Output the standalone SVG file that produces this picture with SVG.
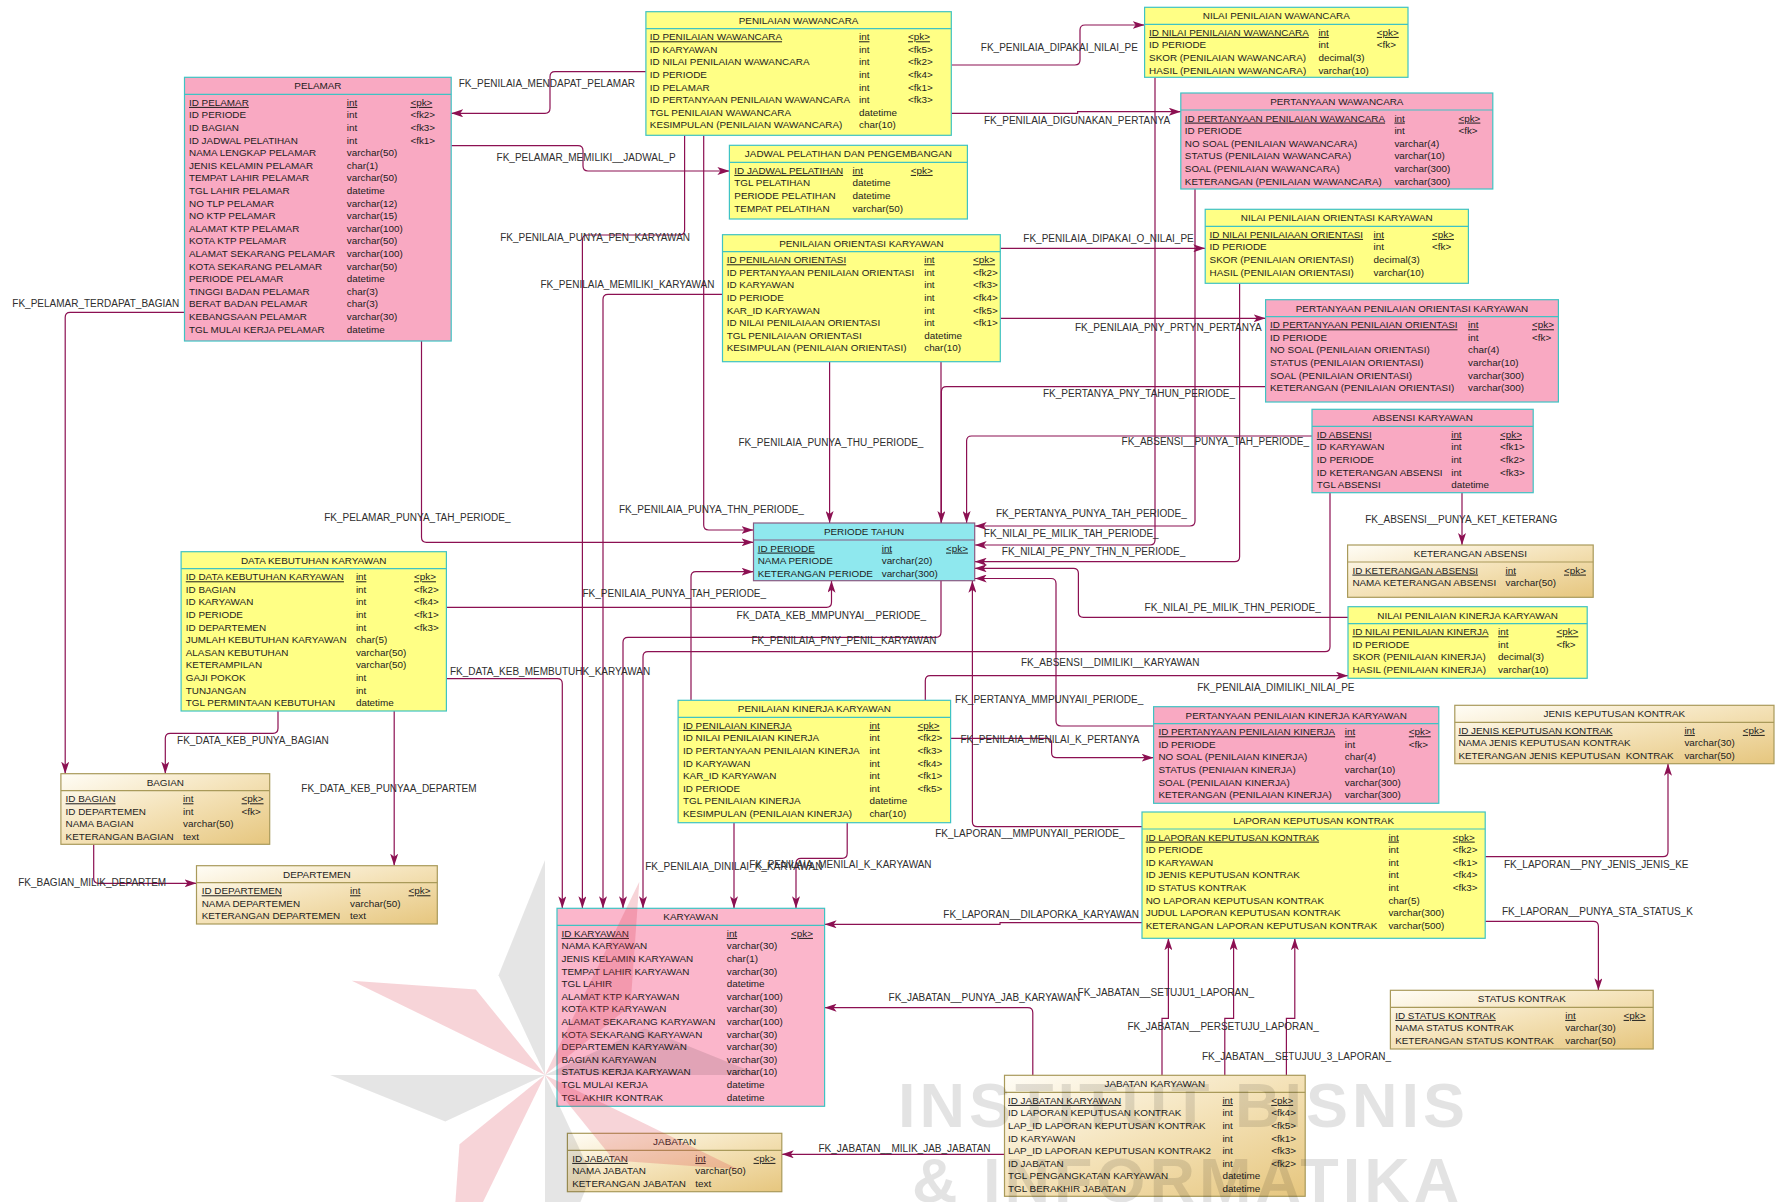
<svg xmlns="http://www.w3.org/2000/svg" width="1777" height="1202" viewBox="0 0 1777 1202">
<defs>
<style>
text{font-family:"Liberation Sans",Arial,sans-serif;font-size:9.9px;fill:#1c1c1c}
.ttl{text-anchor:middle}
.pk{text-decoration:underline}
.lbl{font-size:10px;fill:#2e2e2e}
.box{stroke-width:1.2}
.yel{fill:#ffff85;stroke:#3fc3c3}
.pnk{fill:#f9a9c2;stroke:#3fc3c3}
.kar{fill:#fbb6cb;stroke:#3fc3c3}
.tan{fill:url(#tanG);stroke:#a99a5a}
.cyn{fill:#8fe8ee;stroke:#8a5a82}
.sy{stroke:#3fc3c3;stroke-width:1.2}
.st{stroke:#a99a5a;stroke-width:1.2}
.sc{stroke:#8a5a82;stroke-width:1.2}
.conn path{fill:none;stroke:#8c1052;stroke-width:1.2;marker-end:url(#arr)}
.wm text{font-family:"Liberation Sans",Arial,sans-serif;font-weight:bold;font-size:63px;letter-spacing:4px;fill:#000;fill-opacity:0.11}
.wp{fill:#d8283a;fill-opacity:0.2}
.wg{fill:#000;fill-opacity:0.1}
</style>
<linearGradient id="tanG" x1="0" y1="0" x2="1" y2="1">
<stop offset="0" stop-color="#fffdf6"/>
<stop offset="0.5" stop-color="#f4e2b8"/>
<stop offset="1" stop-color="#e6c67e"/>
</linearGradient>
<marker id="arr" viewBox="0 0 12 8" refX="12" refY="4" markerWidth="12" markerHeight="8" markerUnits="userSpaceOnUse" orient="auto">
<path d="M0,0 L12,4 L0,8 L3,4 Z" fill="#8c1052"/>
</marker>
</defs>
<rect width="1777" height="1202" fill="#ffffff"/>

<g id="connectors" class="conn">
<path d="M646,71.7 H555 Q550,71.7 550,76.7 V108.3 Q550,113.3 545,113.3 H451.2"/>
<path d="M451.2,145.7 H578 Q583,145.7 583,150.7 V166 Q583,171 588,171 H729.4"/>
<path d="M951.3,65 H1075 Q1080,65 1080,60 V30 Q1080,25 1085,25 H1144.6"/>
<path d="M951.3,113.3 H1077.6 V111.7 H1180.8"/>
<path d="M684.6,135.3 V230 Q684.6,235 679.6,235 H587.4 Q582.4,235 582.4,240 V908.3"/>
<path d="M703.7,135.3 V525 Q703.7,530 708.7,530 H753.5"/>
<path d="M722.5,294.3 H608 Q603,294.3 603,299.3 V908.3"/>
<path d="M184.5,312.3 H70.2 Q65.2,312.3 65.2,317.3 V773.7"/>
<path d="M1000.3,248.3 H1205.2"/>
<path d="M1000.3,318.3 H1265.6"/>
<path d="M1265.6,386.7 H946.4 Q941.4,386.7 941.4,391.7 V523"/>
<path d="M1312,436 H971.6 Q966.6,436 966.6,441 V523"/>
<path d="M829.6,361.7 V523"/>
<path d="M421.5,341 V537.3 Q421.5,542.3 426.5,542.3 H753.5"/>
<path d="M1195,189 V521 Q1195,526 1190,526 H974.7"/>
<path d="M1155,77.3 V540 Q1155,545 1150,545 H974.7"/>
<path d="M1239.6,283.3 V556.7 Q1239.6,561.7 1234.6,561.7 H974.7"/>
<path d="M1348,617.3 H1083.4 Q1078.4,617.3 1078.4,612.3 V573.3 Q1078.4,568.3 1073.4,568.3 H974.7"/>
<path d="M1153.6,726 H1061 Q1056,726 1056,721 V583.5 Q1056,578.5 1051,578.5 H974.7"/>
<path d="M1462,492.7 V545"/>
<path d="M691,700.3 V576.7 Q691,571.7 696,571.7 H753.5"/>
<path d="M446.4,607.3 H826.5 Q831.5,607.3 831.5,602.3 V580.7"/>
<path d="M941,361.7 V632.3 Q941,637.3 936,637.3 H628 Q623,637.3 623,642.3 V908.3"/>
<path d="M1330,492.7 V646.7 Q1330,651.7 1325,651.7 H648 Q643,651.7 643,656.7 V908.3"/>
<path d="M446.4,678.7 H557.3 Q562.3,678.7 562.3,683.7 V908.3"/>
<path d="M925.3,700.3 V680.7 Q925.3,675.7 930.3,675.7 H1348"/>
<path d="M950.6,738.3 H1046.6 Q1051.6,738.3 1051.6,743.3 V752.7 Q1051.6,757.7 1056.6,757.7 H1153.6"/>
<path d="M278,711 V728.3 Q278,733.3 273,733.3 H170.3 Q165.3,733.3 165.3,738.3 V773.7"/>
<path d="M394.2,711 V865.7"/>
<path d="M1142,826.7 H977.4 Q972.4,826.7 972.4,821.7 V580.7"/>
<path d="M1485.2,856.7 H1663 Q1668,856.7 1668,851.7 V763.7"/>
<path d="M93.7,844.3 V878.3 Q93.7,883.3 98.7,883.3 H196.5"/>
<path d="M734,822.7 V908.3"/>
<path d="M847.2,822.7 V853.3 Q847.2,858.3 842.2,858.3 H801 Q796,858.3 796,863.3 V908.3"/>
<path d="M1142,922.7 H1000 V924.3 H824.6"/>
<path d="M1485.2,921.3 H1593.4 Q1598.4,921.3 1598.4,926.3 V990.3"/>
<path d="M1032.8,1075.3 V1012.7 Q1032.8,1007.7 1027.8,1007.7 H824.6"/>
<path d="M1162,1075.3 V1018.3 H1168.4 V938.3"/>
<path d="M1224.8,1075.3 V1018.3 H1233.6 V938.3"/>
<path d="M1286.4,1075.3 V1018.3 H1294.8 V938.3"/>
<path d="M1004.5,1154.3 H781.8"/>
<text class="lbl" x="458.7" y="87.3">FK_PENILAIA_MENDAPAT_PELAMAR</text>
<text class="lbl" x="496.6" y="160.9">FK_PELAMAR_MEMILIKI__JADWAL_P</text>
<text class="lbl" x="980.8" y="50.9">FK_PENILAIA_DIPAKAI_NILAI_PE</text>
<text class="lbl" x="983.9" y="123.9">FK_PENILAIA_DIGUNAKAN_PERTANYA</text>
<text class="lbl" x="500.2" y="241.3">FK_PENILAIA_PUNYA_PEN_KARYAWAN</text>
<text class="lbl" x="1023.3" y="242.3">FK_PENILAIA_DIPAKAI_O_NILAI_PE</text>
<text class="lbl" x="540.5" y="288.3">FK_PENILAIA_MEMILIKI_KARYAWAN</text>
<text class="lbl" x="12.3" y="307.3">FK_PELAMAR_TERDAPAT_BAGIAN</text>
<text class="lbl" x="1075" y="331.3">FK_PENILAIA_PNY_PRTYN_PERTANYA</text>
<text class="lbl" x="1043" y="396.9">FK_PERTANYA_PNY_TAHUN_PERIODE_</text>
<text class="lbl" x="1121.6" y="445.3">FK_ABSENSI__PUNYA_TAH_PERIODE_</text>
<text class="lbl" x="738.5" y="446.3">FK_PENILAIA_PUNYA_THU_PERIODE_</text>
<text class="lbl" x="619" y="513.3">FK_PENILAIA_PUNYA_THN_PERIODE_</text>
<text class="lbl" x="324.2" y="521.3">FK_PELAMAR_PUNYA_TAH_PERIODE_</text>
<text class="lbl" x="996" y="517.3">FK_PERTANYA_PUNYA_TAH_PERIODE_</text>
<text class="lbl" x="983.8" y="536.9">FK_NILAI_PE_MILIK_TAH_PERIODE_</text>
<text class="lbl" x="1001.8" y="555.3">FK_NILAI_PE_PNY_THN_N_PERIODE_</text>
<text class="lbl" x="1365.2" y="523.3">FK_ABSENSI__PUNYA_KET_KETERANG</text>
<text class="lbl" x="582.5" y="597.3">FK_PENILAIA_PUNYA_TAH_PERIODE_</text>
<text class="lbl" x="736.6" y="619.3">FK_DATA_KEB_MMPUNYAI__PERIODE_</text>
<text class="lbl" x="1144.6" y="611.3">FK_NILAI_PE_MILIK_THN_PERIODE_</text>
<text class="lbl" x="751.5" y="644.3">FK_PENILAIA_PNY_PENIL_KARYAWAN</text>
<text class="lbl" x="1021" y="666.3">FK_ABSENSI__DIMILIKI__KARYAWAN</text>
<text class="lbl" x="450" y="675.3">FK_DATA_KEB_MEMBUTUHK_KARYAWAN</text>
<text class="lbl" x="1197.2" y="691.3">FK_PENILAIA_DIMILIKI_NILAI_PE</text>
<text class="lbl" x="955.1" y="703.3">FK_PERTANYA_MMPUNYAII_PERIODE_</text>
<text class="lbl" x="960.5" y="743.3">FK_PENILAIA_MENILAI_K_PERTANYA</text>
<text class="lbl" x="177.1" y="744.3">FK_DATA_KEB_PUNYA_BAGIAN</text>
<text class="lbl" x="301.3" y="792.3">FK_DATA_KEB_PUNYAA_DEPARTEM</text>
<text class="lbl" x="935.2" y="837.3">FK_LAPORAN__MMPUNYAII_PERIODE_</text>
<text class="lbl" x="1504" y="868.3">FK_LAPORAN__PNY_JENIS_JENIS_KE</text>
<text class="lbl" x="18.2" y="886.3">FK_BAGIAN_MILIK_DEPARTEM</text>
<text class="lbl" x="645.2" y="870.3">FK_PENILAIA_DINILAI_K_KARYAWAN</text>
<text class="lbl" x="749.3" y="867.9">FK_PENILAIA_MENILAI_K_KARYAWAN</text>
<text class="lbl" x="943.3" y="918.3">FK_LAPORAN__DILAPORKA_KARYAWAN</text>
<text class="lbl" x="1502" y="915.3">FK_LAPORAN__PUNYA_STA_STATUS_K</text>
<text class="lbl" x="888.6" y="1001.3">FK_JABATAN__PUNYA_JAB_KARYAWAN</text>
<text class="lbl" x="1077.6" y="996.3">FK_JABATAN__SETUJU1_LAPORAN_</text>
<text class="lbl" x="1127.4" y="1030.3">FK_JABATAN__PERSETUJU_LAPORAN_</text>
<text class="lbl" x="1202" y="1060.3">FK_JABATAN__SETUJUU_3_LAPORAN_</text>
<text class="lbl" x="818.5" y="1152.3">FK_JABATAN__MILIK_JAB_JABATAN</text>
</g>

<g id="pelamar" transform="translate(184.5,77.3)">
<rect class="box pnk" width="266.7" height="263.7"/>
<line class="sy" x1="0" y1="17" x2="266.7" y2="17"/>
<text class="ttl" x="133.4" y="12.1">PELAMAR</text>
<text class="pk" y="28.6"><tspan x="4.5">ID PELAMAR</tspan><tspan x="162.3">int</tspan><tspan x="225.9">&lt;pk&gt;</tspan></text>
<text y="41.2"><tspan x="4.5">ID PERIODE</tspan><tspan x="162.3">int</tspan><tspan x="225.9">&lt;fk2&gt;</tspan></text>
<text y="53.8"><tspan x="4.5">ID BAGIAN</tspan><tspan x="162.3">int</tspan><tspan x="225.9">&lt;fk3&gt;</tspan></text>
<text y="66.4"><tspan x="4.5">ID JADWAL PELATIHAN</tspan><tspan x="162.3">int</tspan><tspan x="225.9">&lt;fk1&gt;</tspan></text>
<text y="79"><tspan x="4.5">NAMA LENGKAP PELAMAR</tspan><tspan x="162.3">varchar(50)</tspan></text>
<text y="91.6"><tspan x="4.5">JENIS KELAMIN PELAMAR</tspan><tspan x="162.3">char(1)</tspan></text>
<text y="104.2"><tspan x="4.5">TEMPAT LAHIR PELAMAR</tspan><tspan x="162.3">varchar(50)</tspan></text>
<text y="116.8"><tspan x="4.5">TGL LAHIR PELAMAR</tspan><tspan x="162.3">datetime</tspan></text>
<text y="129.4"><tspan x="4.5">NO TLP PELAMAR</tspan><tspan x="162.3">varchar(12)</tspan></text>
<text y="142"><tspan x="4.5">NO KTP PELAMAR</tspan><tspan x="162.3">varchar(15)</tspan></text>
<text y="154.6"><tspan x="4.5">ALAMAT KTP PELAMAR</tspan><tspan x="162.3">varchar(100)</tspan></text>
<text y="167.2"><tspan x="4.5">KOTA KTP PELAMAR</tspan><tspan x="162.3">varchar(50)</tspan></text>
<text y="179.8"><tspan x="4.5">ALAMAT SEKARANG PELAMAR</tspan><tspan x="162.3">varchar(100)</tspan></text>
<text y="192.4"><tspan x="4.5">KOTA SEKARANG PELAMAR</tspan><tspan x="162.3">varchar(50)</tspan></text>
<text y="205"><tspan x="4.5">PERIODE PELAMAR</tspan><tspan x="162.3">datetime</tspan></text>
<text y="217.6"><tspan x="4.5">TINGGI BADAN PELAMAR</tspan><tspan x="162.3">char(3)</tspan></text>
<text y="230.2"><tspan x="4.5">BERAT BADAN PELAMAR</tspan><tspan x="162.3">char(3)</tspan></text>
<text y="242.8"><tspan x="4.5">KEBANGSAAN PELAMAR</tspan><tspan x="162.3">varchar(30)</tspan></text>
<text y="255.4"><tspan x="4.5">TGL MULAI KERJA PELAMAR</tspan><tspan x="162.3">datetime</tspan></text>
</g>

<g id="penilaian-wawancara" transform="translate(645.9,11.7)">
<rect class="box yel" width="305.4" height="123.6"/>
<line class="sy" x1="0" y1="17" x2="305.4" y2="17"/>
<text class="ttl" x="152.7" y="12.1">PENILAIAN WAWANCARA</text>
<text class="pk" y="28.6"><tspan x="3.9">ID PENILAIAN WAWANCARA</tspan><tspan x="213.1">int</tspan><tspan x="262.1">&lt;pk&gt;</tspan></text>
<text y="41.2"><tspan x="3.9">ID KARYAWAN</tspan><tspan x="213.1">int</tspan><tspan x="262.1">&lt;fk5&gt;</tspan></text>
<text y="53.8"><tspan x="3.9">ID NILAI PENILAIAN WAWANCARA</tspan><tspan x="213.1">int</tspan><tspan x="262.1">&lt;fk2&gt;</tspan></text>
<text y="66.4"><tspan x="3.9">ID PERIODE</tspan><tspan x="213.1">int</tspan><tspan x="262.1">&lt;fk4&gt;</tspan></text>
<text y="79"><tspan x="3.9">ID PELAMAR</tspan><tspan x="213.1">int</tspan><tspan x="262.1">&lt;fk1&gt;</tspan></text>
<text y="91.6"><tspan x="3.9">ID PERTANYAAN PENILAIAN WAWANCARA</tspan><tspan x="213.1">int</tspan><tspan x="262.1">&lt;fk3&gt;</tspan></text>
<text y="104.2"><tspan x="3.9">TGL PENILAIAN WAWANCARA</tspan><tspan x="213.1">datetime</tspan></text>
<text y="116.8"><tspan x="3.9">KESIMPULAN (PENILAIAN WAWANCARA)</tspan><tspan x="213.1">char(10)</tspan></text>
</g>

<g id="nilai-penilaian-wawancara" transform="translate(1144.6,7.3)">
<rect class="box yel" width="263.4" height="70"/>
<line class="sy" x1="0" y1="17" x2="263.4" y2="17"/>
<text class="ttl" x="131.7" y="12.1">NILAI PENILAIAN WAWANCARA</text>
<text class="pk" y="28.6"><tspan x="4.5">ID NILAI PENILAIAN WAWANCARA</tspan><tspan x="173.8">int</tspan><tspan x="232.2">&lt;pk&gt;</tspan></text>
<text y="41.2"><tspan x="4.5">ID PERIODE</tspan><tspan x="173.8">int</tspan><tspan x="232.2">&lt;fk&gt;</tspan></text>
<text y="53.8"><tspan x="4.5">SKOR (PENILAIAN WAWANCARA)</tspan><tspan x="173.8">decimal(3)</tspan></text>
<text y="66.4"><tspan x="4.5">HASIL (PENILAIAN WAWANCARA)</tspan><tspan x="173.8">varchar(10)</tspan></text>
</g>

<g id="pertanyaan-wawancara" transform="translate(1180.8,93)">
<rect class="box pnk" width="312" height="96"/>
<line class="sy" x1="0" y1="17" x2="312" y2="17"/>
<text class="ttl" x="156" y="12.1">PERTANYAAN WAWANCARA</text>
<text class="pk" y="28.6"><tspan x="4">ID PERTANYAAN PENILAIAN WAWANCARA</tspan><tspan x="213.6">int</tspan><tspan x="277.6">&lt;pk&gt;</tspan></text>
<text y="41.2"><tspan x="4">ID PERIODE</tspan><tspan x="213.6">int</tspan><tspan x="277.6">&lt;fk&gt;</tspan></text>
<text y="53.8"><tspan x="4">NO SOAL (PENILAIAN WAWANCARA)</tspan><tspan x="213.6">varchar(4)</tspan></text>
<text y="66.4"><tspan x="4">STATUS (PENILAIAN WAWANCARA)</tspan><tspan x="213.6">varchar(10)</tspan></text>
<text y="79"><tspan x="4">SOAL (PENILAIAN WAWANCARA)</tspan><tspan x="213.6">varchar(300)</tspan></text>
<text y="91.6"><tspan x="4">KETERANGAN (PENILAIAN WAWANCARA)</tspan><tspan x="213.6">varchar(300)</tspan></text>
</g>

<g id="jadwal-pelatihan" transform="translate(729.4,145.3)">
<rect class="box yel" width="238" height="73.7"/>
<line class="sy" x1="0" y1="17" x2="238" y2="17"/>
<text class="ttl" x="119" y="12.1">JADWAL PELATIHAN DAN PENGEMBANGAN</text>
<text class="pk" y="28.6"><tspan x="4.9">ID JADWAL PELATIHAN</tspan><tspan x="123.2">int</tspan><tspan x="181.3">&lt;pk&gt;</tspan></text>
<text y="41.2"><tspan x="4.9">TGL PELATIHAN</tspan><tspan x="123.2">datetime</tspan></text>
<text y="53.8"><tspan x="4.9">PERIODE PELATIHAN</tspan><tspan x="123.2">datetime</tspan></text>
<text y="66.4"><tspan x="4.9">TEMPAT PELATIHAN</tspan><tspan x="123.2">varchar(50)</tspan></text>
</g>

<g id="penilaian-orientasi-karyawan" transform="translate(722.5,234.7)">
<rect class="box yel" width="277.8" height="127"/>
<line class="sy" x1="0" y1="17" x2="277.8" y2="17"/>
<text class="ttl" x="138.9" y="12.1">PENILAIAN ORIENTASI KARYAWAN</text>
<text class="pk" y="28.6"><tspan x="4.2">ID PENILAIAN ORIENTASI</tspan><tspan x="201.7">int</tspan><tspan x="250.6">&lt;pk&gt;</tspan></text>
<text y="41.2"><tspan x="4.2">ID PERTANYAAN PENILAIAN ORIENTASI</tspan><tspan x="201.7">int</tspan><tspan x="250.6">&lt;fk2&gt;</tspan></text>
<text y="53.8"><tspan x="4.2">ID KARYAWAN</tspan><tspan x="201.7">int</tspan><tspan x="250.6">&lt;fk3&gt;</tspan></text>
<text y="66.4"><tspan x="4.2">ID PERIODE</tspan><tspan x="201.7">int</tspan><tspan x="250.6">&lt;fk4&gt;</tspan></text>
<text y="79"><tspan x="4.2">KAR_ID KARYAWAN</tspan><tspan x="201.7">int</tspan><tspan x="250.6">&lt;fk5&gt;</tspan></text>
<text y="91.6"><tspan x="4.2">ID NILAI PENILAIAAN ORIENTASI</tspan><tspan x="201.7">int</tspan><tspan x="250.6">&lt;fk1&gt;</tspan></text>
<text y="104.2"><tspan x="4.2">TGL PENILAIAAN ORIENTASI</tspan><tspan x="201.7">datetime</tspan></text>
<text y="116.8"><tspan x="4.2">KESIMPULAN (PENILAIAN ORIENTASI)</tspan><tspan x="201.7">char(10)</tspan></text>
</g>

<g id="nilai-penilaian-orientasi-karyawan" transform="translate(1205.2,209.3)">
<rect class="box yel" width="263.2" height="74"/>
<line class="sy" x1="0" y1="17" x2="263.2" y2="17"/>
<text class="ttl" x="131.6" y="12.1">NILAI PENILAIAN ORIENTASI KARYAWAN</text>
<text class="pk" y="28.6"><tspan x="4.4">ID NILAI PENILAIAAN ORIENTASI</tspan><tspan x="168.4">int</tspan><tspan x="226.8">&lt;pk&gt;</tspan></text>
<text y="41.2"><tspan x="4.4">ID PERIODE</tspan><tspan x="168.4">int</tspan><tspan x="226.8">&lt;fk&gt;</tspan></text>
<text y="53.8"><tspan x="4.4">SKOR (PENILAIAN ORIENTASI)</tspan><tspan x="168.4">decimal(3)</tspan></text>
<text y="66.4"><tspan x="4.4">HASIL (PENILAIAN ORIENTASI)</tspan><tspan x="168.4">varchar(10)</tspan></text>
</g>

<g id="pertanyaan-penilaian-orientasi-karyawan" transform="translate(1265.6,299.7)">
<rect class="box pnk" width="292.8" height="102.3"/>
<line class="sy" x1="0" y1="17" x2="292.8" y2="17"/>
<text class="ttl" x="146.4" y="12.1">PERTANYAAN PENILAIAN ORIENTASI KARYAWAN</text>
<text class="pk" y="28.6"><tspan x="4.4">ID PERTANYAAN PENILAIAN ORIENTASI</tspan><tspan x="202.4">int</tspan><tspan x="266.4">&lt;pk&gt;</tspan></text>
<text y="41.2"><tspan x="4.4">ID PERIODE</tspan><tspan x="202.4">int</tspan><tspan x="266.4">&lt;fk&gt;</tspan></text>
<text y="53.8"><tspan x="4.4">NO SOAL (PENILAIAN ORIENTASI)</tspan><tspan x="202.4">char(4)</tspan></text>
<text y="66.4"><tspan x="4.4">STATUS (PENILAIAN ORIENTASI)</tspan><tspan x="202.4">varchar(10)</tspan></text>
<text y="79"><tspan x="4.4">SOAL (PENILAIAN ORIENTASI)</tspan><tspan x="202.4">varchar(300)</tspan></text>
<text y="91.6"><tspan x="4.4">KETERANGAN (PENILAIAN ORIENTASI)</tspan><tspan x="202.4">varchar(300)</tspan></text>
</g>

<g id="absensi-karyawan" transform="translate(1312,409.3)">
<rect class="box pnk" width="221.2" height="83.4"/>
<line class="sy" x1="0" y1="17" x2="221.2" y2="17"/>
<text class="ttl" x="110.6" y="12.1">ABSENSI KARYAWAN</text>
<text class="pk" y="28.6"><tspan x="4.8">ID ABSENSI</tspan><tspan x="139.2">int</tspan><tspan x="188">&lt;pk&gt;</tspan></text>
<text y="41.2"><tspan x="4.8">ID KARYAWAN</tspan><tspan x="139.2">int</tspan><tspan x="188">&lt;fk1&gt;</tspan></text>
<text y="53.8"><tspan x="4.8">ID PERIODE</tspan><tspan x="139.2">int</tspan><tspan x="188">&lt;fk2&gt;</tspan></text>
<text y="66.4"><tspan x="4.8">ID KETERANGAN ABSENSI</tspan><tspan x="139.2">int</tspan><tspan x="188">&lt;fk3&gt;</tspan></text>
<text y="79"><tspan x="4.8">TGL ABSENSI</tspan><tspan x="139.2">datetime</tspan></text>
</g>

<g id="keterangan-absensi" transform="translate(1347.6,545)">
<rect class="box tan" width="245.6" height="52.3"/>
<line class="st" x1="0" y1="17" x2="245.6" y2="17"/>
<text class="ttl" x="122.8" y="12.1">KETERANGAN ABSENSI</text>
<text class="pk" y="28.6"><tspan x="4.8">ID KETERANGAN ABSENSI</tspan><tspan x="158">int</tspan><tspan x="216.4">&lt;pk&gt;</tspan></text>
<text y="41.2"><tspan x="4.8">NAMA KETERANGAN ABSENSI</tspan><tspan x="158">varchar(50)</tspan></text>
</g>

<g id="nilai-penilaian-kinerja-karyawan" transform="translate(1348,606.7)">
<rect class="box yel" width="239.2" height="71.6"/>
<line class="sy" x1="0" y1="17" x2="239.2" y2="17"/>
<text class="ttl" x="119.6" y="12.1">NILAI PENILAIAN KINERJA KARYAWAN</text>
<text class="pk" y="28.6"><tspan x="4.4">ID NILAI PENILAIAN KINERJA</tspan><tspan x="150">int</tspan><tspan x="208.4">&lt;pk&gt;</tspan></text>
<text y="41.2"><tspan x="4.4">ID PERIODE</tspan><tspan x="150">int</tspan><tspan x="208.4">&lt;fk&gt;</tspan></text>
<text y="53.8"><tspan x="4.4">SKOR (PENILAIAN KINERJA)</tspan><tspan x="150">decimal(3)</tspan></text>
<text y="66.4"><tspan x="4.4">HASIL (PENILAIAN KINERJA)</tspan><tspan x="150">varchar(10)</tspan></text>
</g>

<g id="pertanyaan-penilaian-kinerja-karyawan" transform="translate(1153.6,706.7)">
<rect class="box pnk" width="285.2" height="96.6"/>
<line class="sy" x1="0" y1="17" x2="285.2" y2="17"/>
<text class="ttl" x="142.6" y="12.1">PERTANYAAN PENILAIAN KINERJA KARYAWAN</text>
<text class="pk" y="28.6"><tspan x="4.8">ID PERTANYAAN PENILAIAN KINERJA</tspan><tspan x="191.2">int</tspan><tspan x="255.2">&lt;pk&gt;</tspan></text>
<text y="41.2"><tspan x="4.8">ID PERIODE</tspan><tspan x="191.2">int</tspan><tspan x="255.2">&lt;fk&gt;</tspan></text>
<text y="53.8"><tspan x="4.8">NO SOAL (PENILAIAN KINERJA)</tspan><tspan x="191.2">char(4)</tspan></text>
<text y="66.4"><tspan x="4.8">STATUS (PENIAIAN KINERJA)</tspan><tspan x="191.2">varchar(10)</tspan></text>
<text y="79"><tspan x="4.8">SOAL (PENILAIAN KINERJA)</tspan><tspan x="191.2">varchar(300)</tspan></text>
<text y="91.6"><tspan x="4.8">KETERANGAN (PENILAIAN KINERJA)</tspan><tspan x="191.2">varchar(300)</tspan></text>
</g>

<g id="jenis-keputusan-kontrak" transform="translate(1454.8,705.3)">
<rect class="box tan" width="319.2" height="58.4"/>
<line class="st" x1="0" y1="17" x2="319.2" y2="17"/>
<text class="ttl" x="159.6" y="12.1">JENIS KEPUTUSAN KONTRAK</text>
<text class="pk" y="28.6"><tspan x="3.6">ID JENIS KEPUTUSAN KONTRAK</tspan><tspan x="229.6">int</tspan><tspan x="288">&lt;pk&gt;</tspan></text>
<text y="41.2"><tspan x="3.6">NAMA JENIS KEPUTUSAN KONTRAK</tspan><tspan x="229.6">varchar(30)</tspan></text>
<text y="53.8" xml:space="preserve"><tspan x="3.6">KETERANGAN JENIS KEPUTUSAN  KONTRAK</tspan><tspan x="229.6">varchar(50)</tspan></text>
</g>

<g id="laporan-keputusan-kontrak" transform="translate(1142,812)">
<rect class="box yel" width="343.2" height="126.3"/>
<line class="sy" x1="0" y1="17" x2="343.2" y2="17"/>
<text class="ttl" x="171.6" y="12.1">LAPORAN KEPUTUSAN KONTRAK</text>
<text class="pk" y="28.6"><tspan x="3.7">ID LAPORAN KEPUTUSAN KONTRAK</tspan><tspan x="246.4">int</tspan><tspan x="310.8">&lt;pk&gt;</tspan></text>
<text y="41.2"><tspan x="3.7">ID PERIODE</tspan><tspan x="246.4">int</tspan><tspan x="310.8">&lt;fk2&gt;</tspan></text>
<text y="53.8"><tspan x="3.7">ID KARYAWAN</tspan><tspan x="246.4">int</tspan><tspan x="310.8">&lt;fk1&gt;</tspan></text>
<text y="66.4"><tspan x="3.7">ID JENIS KEPUTUSAN KONTRAK</tspan><tspan x="246.4">int</tspan><tspan x="310.8">&lt;fk4&gt;</tspan></text>
<text y="79"><tspan x="3.7">ID STATUS KONTRAK</tspan><tspan x="246.4">int</tspan><tspan x="310.8">&lt;fk3&gt;</tspan></text>
<text y="91.6"><tspan x="3.7">NO LAPORAN KEPUTUSAN KONTRAK</tspan><tspan x="246.4">char(5)</tspan></text>
<text y="104.2"><tspan x="3.7">JUDUL LAPORAN KEPUTUSAN KONTRAK</tspan><tspan x="246.4">varchar(300)</tspan></text>
<text y="116.8"><tspan x="3.7">KETERANGAN LAPORAN KEPUTUSAN KONTRAK</tspan><tspan x="246.4">varchar(500)</tspan></text>
</g>

<g id="karyawan" transform="translate(557,908.3)">
<rect class="box kar" width="267.6" height="198"/>
<line class="sy" x1="0" y1="17" x2="267.6" y2="17"/>
<text class="ttl" x="133.8" y="12.1">KARYAWAN</text>
<text class="pk" y="28.6"><tspan x="4.5">ID KARYAWAN</tspan><tspan x="169.7">int</tspan><tspan x="234">&lt;pk&gt;</tspan></text>
<text y="41.2"><tspan x="4.5">NAMA KARYAWAN</tspan><tspan x="169.7">varchar(30)</tspan></text>
<text y="53.8"><tspan x="4.5">JENIS KELAMIN KARYAWAN</tspan><tspan x="169.7">char(1)</tspan></text>
<text y="66.4"><tspan x="4.5">TEMPAT LAHIR KARYAWAN</tspan><tspan x="169.7">varchar(30)</tspan></text>
<text y="79"><tspan x="4.5">TGL LAHIR</tspan><tspan x="169.7">datetime</tspan></text>
<text y="91.6"><tspan x="4.5">ALAMAT KTP KARYAWAN</tspan><tspan x="169.7">varchar(100)</tspan></text>
<text y="104.2"><tspan x="4.5">KOTA KTP KARYAWAN</tspan><tspan x="169.7">varchar(30)</tspan></text>
<text y="116.8"><tspan x="4.5">ALAMAT SEKARANG KARYAWAN</tspan><tspan x="169.7">varchar(100)</tspan></text>
<text y="129.4"><tspan x="4.5">KOTA SEKARANG KARYAWAN</tspan><tspan x="169.7">varchar(30)</tspan></text>
<text y="142"><tspan x="4.5">DEPARTEMEN KARYAWAN</tspan><tspan x="169.7">varchar(30)</tspan></text>
<text y="154.6"><tspan x="4.5">BAGIAN KARYAWAN</tspan><tspan x="169.7">varchar(30)</tspan></text>
<text y="167.2"><tspan x="4.5">STATUS KERJA KARYAWAN</tspan><tspan x="169.7">varchar(10)</tspan></text>
<text y="179.8"><tspan x="4.5">TGL MULAI KERJA</tspan><tspan x="169.7">datetime</tspan></text>
<text y="192.4"><tspan x="4.5">TGL AKHIR KONTRAK</tspan><tspan x="169.7">datetime</tspan></text>
</g>

<g id="jabatan" transform="translate(567.4,1133.3)">
<rect class="box tan" width="214.4" height="58.4"/>
<line class="st" x1="0" y1="17" x2="214.4" y2="17"/>
<text class="ttl" x="107.2" y="12.1">JABATAN</text>
<text class="pk" y="28.6"><tspan x="4.8">ID JABATAN</tspan><tspan x="127.9">int</tspan><tspan x="186.1">&lt;pk&gt;</tspan></text>
<text y="41.2"><tspan x="4.8">NAMA JABATAN</tspan><tspan x="127.9">varchar(50)</tspan></text>
<text y="53.8"><tspan x="4.8">KETERANGAN JABATAN</tspan><tspan x="127.9">text</tspan></text>
</g>

<g id="jabatan-karyawan" transform="translate(1004.5,1075.3)">
<rect class="box tan" width="300.7" height="121"/>
<line class="st" x1="0" y1="17" x2="300.7" y2="17"/>
<text class="ttl" x="150.3" y="12.1">JABATAN KARYAWAN</text>
<text class="pk" y="28.6"><tspan x="3.5">ID JABATAN KARYAWAN</tspan><tspan x="217.9">int</tspan><tspan x="266.7">&lt;pk&gt;</tspan></text>
<text y="41.2"><tspan x="3.5">ID LAPORAN KEPUTUSAN KONTRAK</tspan><tspan x="217.9">int</tspan><tspan x="266.7">&lt;fk4&gt;</tspan></text>
<text y="53.8"><tspan x="3.5">LAP_ID LAPORAN KEPUTUSAN KONTRAK</tspan><tspan x="217.9">int</tspan><tspan x="266.7">&lt;fk5&gt;</tspan></text>
<text y="66.4"><tspan x="3.5">ID KARYAWAN</tspan><tspan x="217.9">int</tspan><tspan x="266.7">&lt;fk1&gt;</tspan></text>
<text y="79"><tspan x="3.5">LAP_ID LAPORAN KEPUTUSAN KONTRAK2</tspan><tspan x="217.9">int</tspan><tspan x="266.7">&lt;fk3&gt;</tspan></text>
<text y="91.6"><tspan x="3.5">ID JABATAN</tspan><tspan x="217.9">int</tspan><tspan x="266.7">&lt;fk2&gt;</tspan></text>
<text y="104.2"><tspan x="3.5">TGL PENGANGKATAN KARYAWAN</tspan><tspan x="217.9">datetime</tspan></text>
<text y="116.8"><tspan x="3.5">TGL BERAKHIR JABATAN</tspan><tspan x="217.9">datetime</tspan></text>
</g>

<g id="status-kontrak" transform="translate(1390.4,990.3)">
<rect class="box tan" width="262.8" height="58.7"/>
<line class="st" x1="0" y1="17" x2="262.8" y2="17"/>
<text class="ttl" x="131.4" y="12.1">STATUS KONTRAK</text>
<text class="pk" y="28.6"><tspan x="4.8">ID STATUS KONTRAK</tspan><tspan x="174.8">int</tspan><tspan x="233.2">&lt;pk&gt;</tspan></text>
<text y="41.2"><tspan x="4.8">NAMA STATUS KONTRAK</tspan><tspan x="174.8">varchar(30)</tspan></text>
<text y="53.8"><tspan x="4.8">KETERANGAN STATUS KONTRAK</tspan><tspan x="174.8">varchar(50)</tspan></text>
</g>

<g id="periode-tahun" transform="translate(753.5,523)">
<rect class="box cyn" width="221.2" height="57.7"/>
<line class="sc" x1="0" y1="17" x2="221.2" y2="17"/>
<text class="ttl" x="110.6" y="12.1">PERIODE TAHUN</text>
<text class="pk" y="28.6"><tspan x="4.2">ID PERIODE</tspan><tspan x="128.2">int</tspan><tspan x="192.5">&lt;pk&gt;</tspan></text>
<text y="41.2"><tspan x="4.2">NAMA PERIODE</tspan><tspan x="128.2">varchar(20)</tspan></text>
<text y="53.8"><tspan x="4.2">KETERANGAN PERIODE</tspan><tspan x="128.2">varchar(300)</tspan></text>
</g>

<g id="data-kebutuhan-karyawan" transform="translate(181.1,551.7)">
<rect class="box yel" width="265.3" height="159.3"/>
<line class="sy" x1="0" y1="17" x2="265.3" y2="17"/>
<text class="ttl" x="132.6" y="12.1">DATA KEBUTUHAN KARYAWAN</text>
<text class="pk" y="28.6"><tspan x="4.7">ID DATA KEBUTUHAN KARYAWAN</tspan><tspan x="174.8">int</tspan><tspan x="232.9">&lt;pk&gt;</tspan></text>
<text y="41.2"><tspan x="4.7">ID BAGIAN</tspan><tspan x="174.8">int</tspan><tspan x="232.9">&lt;fk2&gt;</tspan></text>
<text y="53.8"><tspan x="4.7">ID KARYAWAN</tspan><tspan x="174.8">int</tspan><tspan x="232.9">&lt;fk4&gt;</tspan></text>
<text y="66.4"><tspan x="4.7">ID PERIODE</tspan><tspan x="174.8">int</tspan><tspan x="232.9">&lt;fk1&gt;</tspan></text>
<text y="79"><tspan x="4.7">ID DEPARTEMEN</tspan><tspan x="174.8">int</tspan><tspan x="232.9">&lt;fk3&gt;</tspan></text>
<text y="91.6"><tspan x="4.7">JUMLAH KEBUTUHAN KARYAWAN</tspan><tspan x="174.8">char(5)</tspan></text>
<text y="104.2"><tspan x="4.7">ALASAN KEBUTUHAN</tspan><tspan x="174.8">varchar(50)</tspan></text>
<text y="116.8"><tspan x="4.7">KETERAMPILAN</tspan><tspan x="174.8">varchar(50)</tspan></text>
<text y="129.4"><tspan x="4.7">GAJI POKOK</tspan><tspan x="174.8">int</tspan></text>
<text y="142"><tspan x="4.7">TUNJANGAN</tspan><tspan x="174.8">int</tspan></text>
<text y="154.6"><tspan x="4.7">TGL PERMINTAAN KEBUTUHAN</tspan><tspan x="174.8">datetime</tspan></text>
</g>

<g id="bagian" transform="translate(60.9,773.7)">
<rect class="box tan" width="208.8" height="70.6"/>
<line class="st" x1="0" y1="17" x2="208.8" y2="17"/>
<text class="ttl" x="104.4" y="12.1">BAGIAN</text>
<text class="pk" y="28.6"><tspan x="4.7">ID BAGIAN</tspan><tspan x="122.1">int</tspan><tspan x="180.7">&lt;pk&gt;</tspan></text>
<text y="41.2"><tspan x="4.7">ID DEPARTEMEN</tspan><tspan x="122.1">int</tspan><tspan x="180.7">&lt;fk&gt;</tspan></text>
<text y="53.8"><tspan x="4.7">NAMA BAGIAN</tspan><tspan x="122.1">varchar(50)</tspan></text>
<text y="66.4"><tspan x="4.7">KETERANGAN BAGIAN</tspan><tspan x="122.1">text</tspan></text>
</g>

<g id="departemen" transform="translate(196.5,865.7)">
<rect class="box tan" width="240.8" height="58.3"/>
<line class="st" x1="0" y1="17" x2="240.8" y2="17"/>
<text class="ttl" x="120.4" y="12.1">DEPARTEMEN</text>
<text class="pk" y="28.6"><tspan x="5.2">ID DEPARTEMEN</tspan><tspan x="153.5">int</tspan><tspan x="212">&lt;pk&gt;</tspan></text>
<text y="41.2"><tspan x="5.2">NAMA DEPARTEMEN</tspan><tspan x="153.5">varchar(50)</tspan></text>
<text y="53.8"><tspan x="5.2">KETERANGAN DEPARTEMEN</tspan><tspan x="153.5">text</tspan></text>
</g>

<g id="penilaian-kinerja-karyawan" transform="translate(678.1,700.3)">
<rect class="box yel" width="272.5" height="122.4"/>
<line class="sy" x1="0" y1="17" x2="272.5" y2="17"/>
<text class="ttl" x="136.3" y="12.1">PENILAIAN KINERJA KARYAWAN</text>
<text class="pk" y="28.6"><tspan x="4.9">ID PENILAIAN KINERJA</tspan><tspan x="191.3">int</tspan><tspan x="239.5">&lt;pk&gt;</tspan></text>
<text y="41.2"><tspan x="4.9">ID NILAI PENILAIAN KINERJA</tspan><tspan x="191.3">int</tspan><tspan x="239.5">&lt;fk2&gt;</tspan></text>
<text y="53.8"><tspan x="4.9">ID PERTANYAAN PENILAIAN KINERJA</tspan><tspan x="191.3">int</tspan><tspan x="239.5">&lt;fk3&gt;</tspan></text>
<text y="66.4"><tspan x="4.9">ID KARYAWAN</tspan><tspan x="191.3">int</tspan><tspan x="239.5">&lt;fk4&gt;</tspan></text>
<text y="79"><tspan x="4.9">KAR_ID KARYAWAN</tspan><tspan x="191.3">int</tspan><tspan x="239.5">&lt;fk1&gt;</tspan></text>
<text y="91.6"><tspan x="4.9">ID PERIODE</tspan><tspan x="191.3">int</tspan><tspan x="239.5">&lt;fk5&gt;</tspan></text>
<text y="104.2"><tspan x="4.9">TGL PENILAIAN KINERJA</tspan><tspan x="191.3">datetime</tspan></text>
<text y="116.8"><tspan x="4.9">KESIMPULAN (PENILAIAN KINERJA)</tspan><tspan x="191.3">char(10)</tspan></text>
</g>

<g id="watermark" class="wm">
<polygon class="wp" points="545,1075 351.8,980.7 475.8,989.5"/>
<polygon class="wp" points="545,1075 450.7,1268.2 459.5,1144.2"/>
<polygon class="wp" points="545,1075 738.2,1169.3 614.2,1160.5"/>
<polygon class="wp" points="545,1075 639.3,881.8 630.5,1005.8"/>
<polygon class="wg" points="545,1075 545,860 498.5,975.3"/>
<polygon class="wg" points="545,1075 330,1075 445.3,1121.5"/>
<polygon class="wg" points="545,1075 545,1290 591.5,1174.7"/>
<polygon class="wg" points="545,1075 760,1075 644.7,1028.5"/>
<text x="898" y="1127">INSTITUT BISNIS</text>
<text x="912" y="1202">&amp; INFORMATIKA</text>
</g>
</svg>
